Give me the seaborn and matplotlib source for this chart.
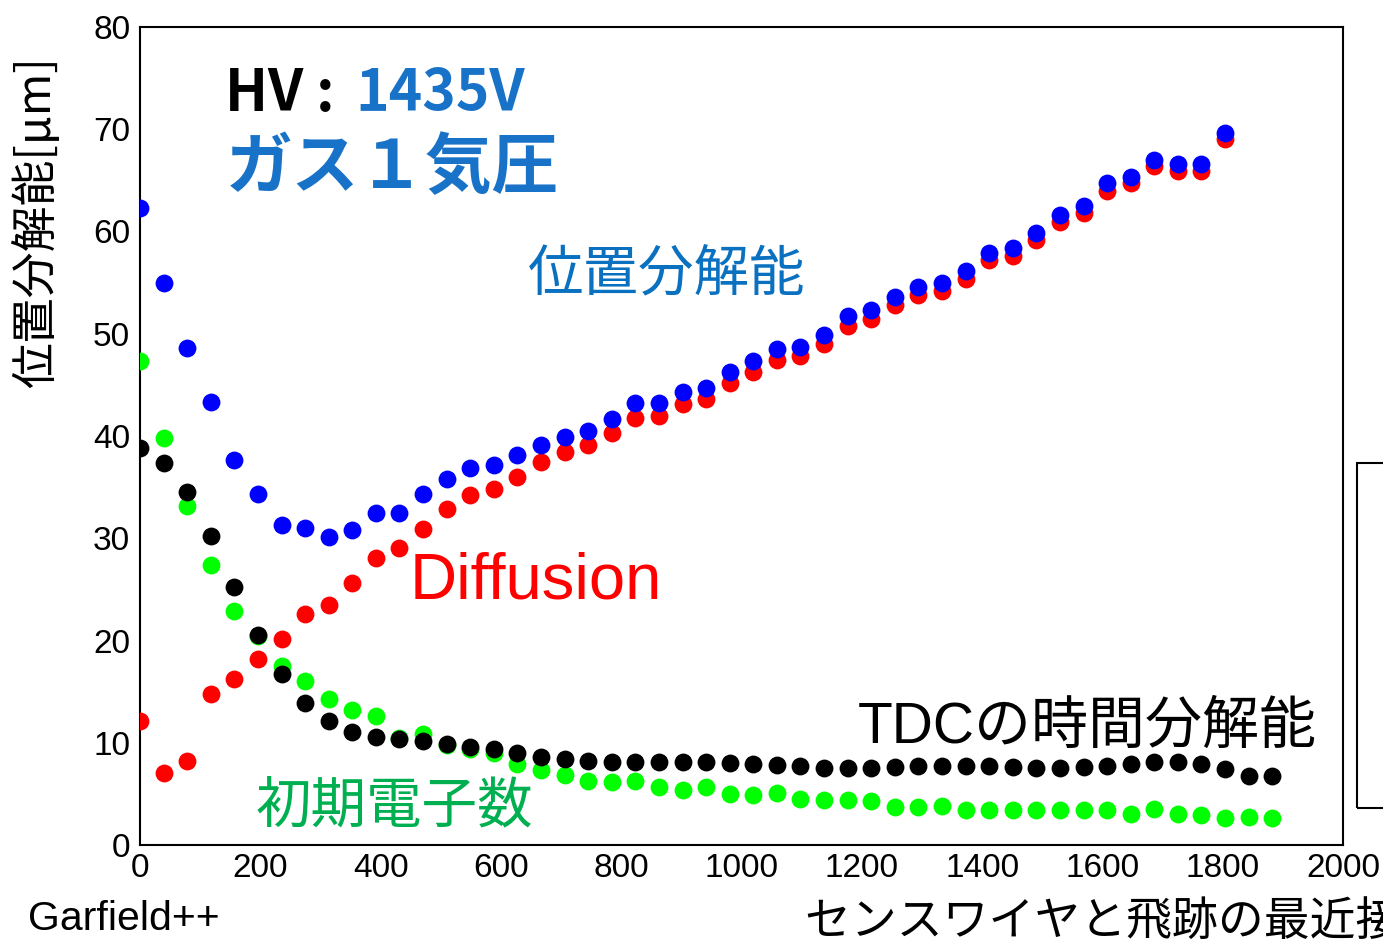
import numpy as np
import pandas as pd
import matplotlib
matplotlib.use("Agg")
import matplotlib.pyplot as plt
from matplotlib.patches import Rectangle
import seaborn as sns

# ---------------- data ----------------
distance = [0.0, 39.2, 78.4, 117.6, 156.9, 196.1, 235.3, 274.5, 313.7, 352.9,
            392.2, 431.4, 470.6, 509.8, 549.0, 588.2, 627.5, 666.7, 705.9, 745.1,
            784.3, 823.5, 862.7, 902.0, 941.2, 980.4, 1019.6, 1058.8, 1098.0, 1137.3,
            1176.5, 1215.7, 1254.9, 1294.1, 1333.3, 1372.5, 1411.8, 1451.0, 1490.2, 1529.4,
            1568.6, 1607.8, 1647.1, 1686.3, 1725.5, 1764.7, 1803.9, 1843.1, 1882.4]

position_res = [62.3, 55.0, 48.6, 43.3, 37.7, 34.3, 31.3, 31.0, 30.1, 30.8,
                32.5, 32.5, 34.3, 35.8, 36.9, 37.2, 38.1, 39.1, 39.9, 40.5,
                41.7, 43.2, 43.2, 44.3, 44.7, 46.3, 47.3, 48.5, 48.7, 49.9,
                51.7, 52.3, 53.6, 54.6, 55.0, 56.1, 57.9, 58.4, 59.9, 61.6,
                62.5, 64.7, 65.3, 67.0, 66.6, 66.6, 69.6]

diffusion = [12.1, 7.0, 8.2, 14.8, 16.2, 18.2, 20.1, 22.6, 23.5, 25.6,
             28.1, 29.0, 30.9, 32.9, 34.2, 34.8, 36.0, 37.5, 38.4, 39.1,
             40.3, 41.8, 42.0, 43.1, 43.6, 45.2, 46.3, 47.4, 47.8, 49.0,
             50.8, 51.4, 52.8, 53.8, 54.2, 55.4, 57.2, 57.6, 59.2, 60.9,
             61.8, 64.0, 64.7, 66.4, 65.9, 65.9, 69.0]

primary_electrons = [47.3, 39.8, 33.2, 27.4, 22.9, 20.4, 17.5, 16.0, 14.3, 13.2,
                     12.6, 10.5, 10.9, 9.8, 9.4, 9.0, 7.9, 7.3, 6.8, 6.3,
                     6.2, 6.3, 5.7, 5.4, 5.7, 5.0, 4.9, 5.05, 4.5, 4.4,
                     4.4, 4.3, 3.75, 3.75, 3.8, 3.4, 3.4, 3.4, 3.4, 3.4,
                     3.4, 3.4, 3.0, 3.5, 3.0, 2.9, 2.65, 2.7, 2.65]

tdc_res = [38.8, 37.4, 34.5, 30.2, 25.2, 20.5, 16.7, 13.9, 12.1, 11.1,
           10.6, 10.4, 10.2, 9.9, 9.6, 9.4, 9.0, 8.6, 8.4, 8.25,
           8.15, 8.15, 8.15, 8.15, 8.1, 8.0, 7.9, 7.8, 7.7, 7.5,
           7.5, 7.5, 7.6, 7.7, 7.7, 7.7, 7.7, 7.6, 7.5, 7.5,
           7.6, 7.7, 7.9, 8.1, 8.1, 7.9, 7.4, 6.75, 6.75]

x_ticks = [0, 200, 400, 600, 800, 1000, 1200, 1400, 1600, 1800, 2000]
y_ticks = [0, 10, 20, 30, 40, 50, 60, 70, 80]

n_pos = len(position_res)
df_pos = pd.DataFrame({"d": distance[:n_pos], "pos": position_res, "diff": diffusion})
df_all = pd.DataFrame({"d": distance, "pe": primary_electrons, "tdc": tdc_res})

# ---------------- style ----------------
sns.set_theme(style="white")
plt.rcParams["font.family"] = ["Liberation Sans", "Noto Sans CJK JP", "DejaVu Sans"]
JP = ["Noto Sans CJK JP", "DejaVu Sans"]
MIX = ["Liberation Sans", "Noto Sans CJK JP", "DejaVu Sans"]

fig = plt.figure(figsize=(13.83, 9.47), dpi=100)
ax = fig.add_axes([0.1012, 0.1077, 0.8699, 0.8638])

S = 165
sns.scatterplot(data=df_pos, x="d", y="diff", color="#ff0000", s=S, linewidth=0, ax=ax, zorder=3)
sns.scatterplot(data=df_pos, x="d", y="pos", color="#0000ff", s=S, linewidth=0, ax=ax, zorder=4)
sns.scatterplot(data=df_all, x="d", y="pe", color="#00ff00", s=S, linewidth=0, ax=ax, zorder=3)
sns.scatterplot(data=df_all, x="d", y="tdc", color="#000000", s=S, linewidth=0, ax=ax, zorder=4)

ax.set_xlim(0, 2000)
ax.set_ylim(0, 80)
ax.set_xticks(x_ticks)
ax.set_yticks(y_ticks)
ax.set_xticks(np.arange(0, 2001, 50), minor=True)
ax.set_yticks(np.arange(0, 81, 2), minor=True)
ax.set_xlabel("")
ax.set_ylabel("")
ax.tick_params(axis="both", which="both", direction="in", colors="black",
               top=False, right=False, width=1.5)
ax.tick_params(axis="y", which="major", length=23, pad=7, labelsize=24)
ax.tick_params(axis="y", which="minor", length=11.5)
ax.tick_params(axis="x", which="major", length=18, pad=6, labelsize=24)
ax.tick_params(axis="x", which="minor", length=9)
for sp in ax.spines.values():
    sp.set_color("black")
    sp.set_linewidth(1.5)
ax.grid(False)

# ---------------- annotations ----------------
def dx(px):
    return (px - 140) / 0.6015

def dy(py):
    return (844.4 - py) / 10.23

ax.text(dx(225), dy(110), "HV :", fontsize=41, fontweight="bold", color="black",
        family=JP, va="baseline", ha="left")
ax.text(dx(355), dy(110), "1435V", fontsize=41, fontweight="bold", color="#1872c8",
        family=JP, va="baseline", ha="left")
ax.text(dx(226), dy(168), "ガス１気圧", fontsize=48, fontweight="bold", color="#1872c8",
        family=JP, va="center", ha="left")
ax.text(dx(528), dy(274), "位置分解能", fontsize=40, color="#0a70c0",
        family=JP, va="center", ha="left")
ax.text(dx(410), dy(598), "Diffusion", fontsize=47, color="#ff0000",
        family=MIX, va="baseline", ha="left")
ax.text(dx(858), dy(742), "TDCの時間分解能", fontsize=41, color="black",
        family=MIX, va="baseline", ha="left")
ax.text(dx(256), dy(806), "初期電子数", fontsize=40, color="#00b050",
        family=JP, va="center", ha="left")

fig.text(28 / 1383, 1 - 930 / 947, "Garfield++", fontsize=29.5, color="black",
         family=MIX, va="baseline", ha="left")
fig.text(805 / 1383, 1 - 922 / 947, "センスワイヤと飛跡の最近接距離 [μm]", fontsize=33,
         color="black", family=JP, va="center", ha="left")
fig.text(37 / 1383, 1 - 222 / 947, "位置分解能[μm]", fontsize=33, color="black",
         family=JP, va="center", ha="center", rotation=90)

# partially visible box at the right edge
fig.add_artist(Rectangle((1357 / 1383, 1 - 808 / 947), 0.05, 345 / 947,
                         transform=fig.transFigure, fill=False,
                         edgecolor="black", linewidth=1.5))

fig.savefig("out.png", dpi=100)
